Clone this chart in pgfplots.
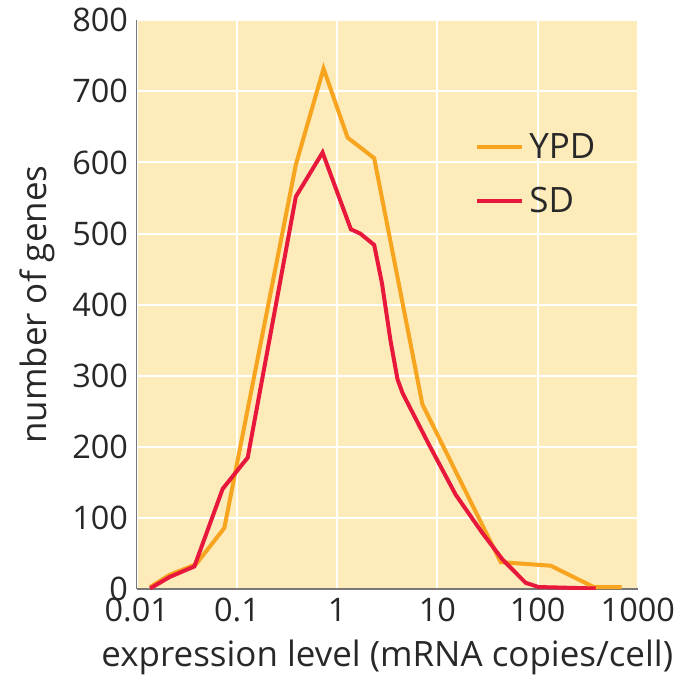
\documentclass[border=0pt]{standalone}
\usepackage{fontspec}
\setmainfont{Open Sans}
\usepackage{pgfplots}
\pgfplotsset{compat=1.18}
\usepackage{xcolor}

\definecolor{bgyellow}{RGB}{253,235,186}
\definecolor{ypdorange}{RGB}{247,164,30}
\definecolor{sdred}{RGB}{232,24,60}
\definecolor{txt}{RGB}{40,40,40}
\definecolor{axgray}{RGB}{120,120,120}

\begin{document}
\begin{tikzpicture}
% fixed page box: 1px of the reference = 0.4pt
\path (-54.8pt,-38.8pt) rectangle (219.6pt,235.2pt);
\begin{axis}[
    scale only axis, width=200.8pt, height=228pt,
    xmode=log, xmin=0.01, xmax=1000, ymin=0, ymax=800,
    xtick={0.01,0.1,1,10,100,1000},
    xticklabels={0.01,0.1,1,10,100,1000},
    ytick={0,100,...,800},
    axis lines*=left,
    axis line style={axgray, line width=0.6pt},
    major tick length=0pt, minor tick length=0pt,
    grid=major,
    major grid style={white, line width=0.8pt},
    axis background/.style={fill=bgyellow},
    /pgf/number format/assume math mode=true,
    tick label style={font=\fontsize{13pt}{15pt}\selectfont, text=txt},
    label style={font=\fontsize{14pt}{16pt}\selectfont, text=txt},
    xlabel style={yshift=-0.5pt},
    xlabel={expression level (mRNA copies/cell)},
    ylabel={number of genes},
    legend style={at={(rel axis cs:0.66,0.82)}, anchor=north west,
      draw=none, fill=none, font=\fontsize{14pt}{16pt}\selectfont, text=txt,
      row sep=6pt},
    legend cell align=left,
    legend image code/.code={\draw[#1] (0pt,0pt) -- (18pt,0pt);},
]
\addplot[ypdorange, line width=1.6pt] coordinates {
  (0.0136,3) (0.0212,20) (0.039,35) (0.0748,86) (0.387,597) (0.731,732)
  (1.27,635) (2.34,606) (7.08,260) (42.8,38) (135,33) (363,3) (690,3)
};
\addlegendentry{YPD}
\addplot[sdred, line width=1.6pt] coordinates {
  (0.0136,1) (0.0212,17) (0.0376,32) (0.072,141) (0.128,185) (0.387,552)
  (0.715,614) (1.37,506) (1.7,500) (2.34,484) (2.8,430) (3.4,350) (4.0,295)
  (4.48,276) (8.26,203) (15.2,133) (28.1,79) (44.5,42) (75.9,9)
  (102,3) (380,1)
};
\addlegendentry{SD}
\end{axis}
\end{tikzpicture}
\end{document}
